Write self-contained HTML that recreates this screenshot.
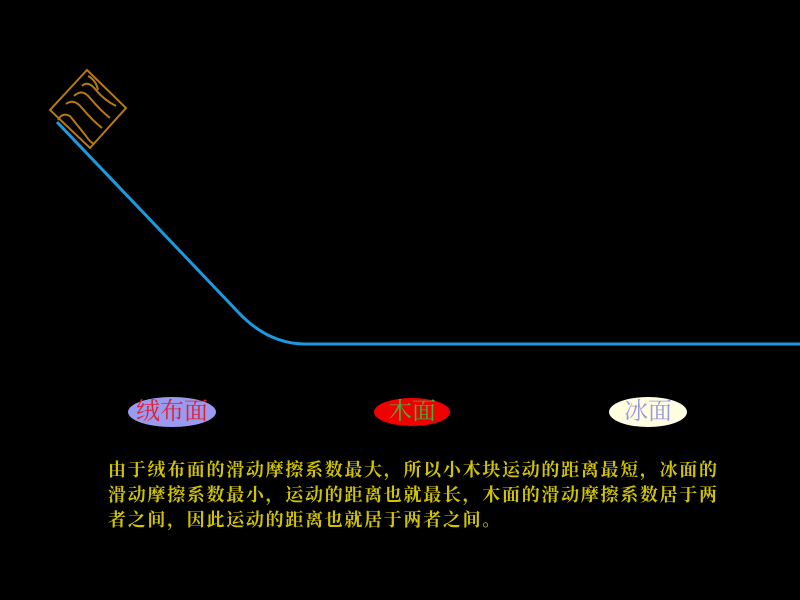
<!DOCTYPE html>
<html><head><meta charset="utf-8"><style>
body{margin:0;background:#000;width:800px;height:600px;overflow:hidden;position:relative}
.t{position:absolute;left:108px;font-family:"Liberation Serif","Noto Serif CJK SC",serif;font-size:18px;letter-spacing:1.7px;color:#d0c400;white-space:nowrap;line-height:20px;font-weight:bold}
.e{position:absolute;border-radius:50%;font-family:"Liberation Serif","Noto Serif CJK SC",serif;font-size:24px;text-align:center}
</style></head><body>
<svg width="800" height="600" style="position:absolute;left:0;top:0">
<path d="M57,122 L238,312 Q268,344 305,344 L800,344" fill="none" stroke="#1a9be0" stroke-width="3"/>
<g fill="none" stroke="#b87a10" stroke-width="2">
<polygon points="87,70 126,108 90,148 50,110"/>
<path d="M58,120 Q62,112 70,116 Q78,126 86,136 Q90,142 94,144"/>
<path d="M66,104 Q74,98 82,108 Q92,120 102,128"/>
<path d="M74,96 Q82,88 90,98 Q100,110 110,118"/>
<path d="M82,86 Q88,80 96,90 Q104,100 116,106"/>
<path d="M88,76 Q96,80 98,90"/>
</g>
</svg>
<div class="e" style="left:128px;top:397px;width:88px;height:30px;line-height:30px;background:#9a9af0;color:#e02030">绒布面</div>
<div class="e" style="left:374px;top:398px;width:76px;height:28px;line-height:28px;background:#f00000;color:#40b040">木面</div>
<div class="e" style="left:609px;top:397px;width:78px;height:30px;line-height:30px;background:#fffde0;color:#9a9ae0">冰面</div>
<div class="t" style="top:460px">由于绒布面的滑动摩擦系数最大，所以小木块运动的距离最短，冰面的</div>
<div class="t" style="top:485px">滑动摩擦系数最小，运动的距离也就最长，木面的滑动摩擦系数居于两</div>
<div class="t" style="top:510px">者之间，因此运动的距离也就居于两者之间。</div>
</body></html>
